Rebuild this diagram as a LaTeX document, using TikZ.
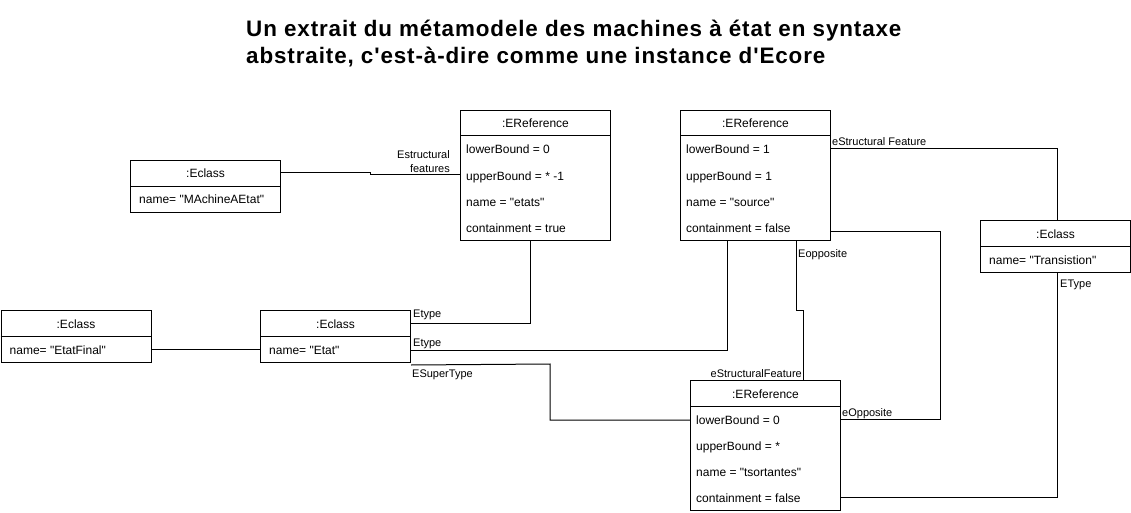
\documentclass[tikz,border=0pt]{standalone}
\usepackage{fontspec}
\setmainfont{Liberation Sans}[Ligatures=TeXOff]
\newfontfamily\titlefont[LetterSpace=4,Ligatures=TeXOff]{Liberation Sans}
\begin{document}
\begin{tikzpicture}[x=1pt,y=-1pt,
  box/.style={draw, line width=1pt, minimum width=150pt, inner sep=0pt, anchor=north west, fill=white},
  hdr/.style={anchor=base, inner sep=0pt, font=\fontsize{12pt}{14pt}\selectfont},
  attr/.style={anchor=base west, inner sep=0pt, font=\fontsize{12pt}{14pt}\selectfont},
  lbl/.style={anchor=base west, inner sep=0pt, font=\fontsize{11pt}{13pt}\selectfont},
  lblr/.style={anchor=base east, inner sep=0pt, font=\fontsize{11pt}{13pt}\selectfont},
  ttl/.style={anchor=base west, inner sep=0pt, font=\titlefont\bfseries\fontsize{22.4pt}{26pt}\selectfont},
  conn/.style={draw, line width=1pt}]
\useasboundingbox (0,0) rectangle (1131,513);

% title
\node[ttl] (title1) at (246,37) {Un extrait du métamodele des machines à état en syntaxe};
\node[ttl] (title2) at (246,64) {abstraite, c'est-à-dire comme une instance d'Ecore};

% EReference etats
\node[box, minimum height=130pt] (er1) at (460,110) {};
\draw[line width=1pt] ([yshift=-26pt]er1.north west) -- ([yshift=-26pt]er1.north east);
\node[hdr] (er1h) at ([yshift=-18pt]er1.north) {:EReference};
\node[attr] (er1a) at ([xshift=6pt,yshift=-44pt]er1.north west) {lowerBound = 0};
\node[attr] (er1b) at ([xshift=6pt,yshift=-70pt]er1.north west) {upperBound = * -1};
\node[attr] (er1c) at ([xshift=6pt,yshift=-96pt]er1.north west) {name = "etats"};
\node[attr] (er1d) at ([xshift=6pt,yshift=-122pt]er1.north west) {containment = true};

% EReference source
\node[box, minimum height=130pt] (er2) at (680,110) {};
\draw[line width=1pt] ([yshift=-26pt]er2.north west) -- ([yshift=-26pt]er2.north east);
\node[hdr] (er2h) at ([yshift=-18pt]er2.north) {:EReference};
\node[attr] (er2a) at ([xshift=6pt,yshift=-44pt]er2.north west) {lowerBound = 1};
\node[attr] (er2b) at ([xshift=6pt,yshift=-70pt]er2.north west) {upperBound = 1};
\node[attr] (er2c) at ([xshift=6pt,yshift=-96pt]er2.north west) {name = "source"};
\node[attr] (er2d) at ([xshift=6pt,yshift=-122pt]er2.north west) {containment = false};

% EReference tsortantes
\node[box, minimum height=130pt] (er3) at (690,380) {};
\draw[line width=1pt] ([yshift=-26pt]er3.north west) -- ([yshift=-26pt]er3.north east);
\node[hdr] (er3h) at ([yshift=-18pt]er3.north) {:EReference};
\node[attr] (er3a) at ([xshift=6pt,yshift=-44pt]er3.north west) {lowerBound = 0};
\node[attr] (er3b) at ([xshift=6pt,yshift=-70pt]er3.north west) {upperBound = *};
\node[attr] (er3c) at ([xshift=6pt,yshift=-96pt]er3.north west) {name = "tsortantes"};
\node[attr] (er3d) at ([xshift=6pt,yshift=-122pt]er3.north west) {containment = false};

% Eclass MAchineAEtat
\node[box, minimum height=52pt] (mae) at (130,160) {};
\draw[line width=1pt] ([yshift=-26pt]mae.north west) -- ([yshift=-26pt]mae.north east);
\node[hdr] (maeh) at ([yshift=-18pt]mae.north) {:Eclass};
\node[attr] (maea) at ([xshift=9pt,yshift=-44pt]mae.north west) {name= "MAchineAEtat"};

% Eclass Transistion
\node[box, minimum height=52pt] (tr) at (980,220) {};
\draw[line width=1pt] ([yshift=-26pt]tr.north west) -- ([yshift=-26pt]tr.north east);
\node[hdr] (trh) at ([yshift=-18pt]tr.north) {:Eclass};
\node[attr] (tra) at ([xshift=9pt,yshift=-44pt]tr.north west) {name= "Transistion"};

% Eclass EtatFinal
\node[box, minimum height=52pt] (ef) at (0.5,310) {};
\draw[line width=1pt] ([yshift=-26pt]ef.north west) -- ([yshift=-26pt]ef.north east);
\node[hdr] (efh) at ([yshift=-18pt]ef.north) {:Eclass};
\node[attr] (efa) at ([xshift=9pt,yshift=-44pt]ef.north west) {name= "EtatFinal"};

% Eclass Etat
\node[box, minimum height=52pt] (et) at (260,310) {};
\draw[line width=1pt] ([yshift=-26pt]et.north west) -- ([yshift=-26pt]et.north east);
\node[hdr] (eth) at ([yshift=-18pt]et.north) {:Eclass};
\node[attr] (eta) at ([xshift=9pt,yshift=-44pt]et.north west) {name= "Etat"};

% connectors
\path[conn] (mae.east |- 0,173) -- (370,173) -- (370,175) -- (er1.west |- 0,175);
\path[conn] (530,0 |- er1.south) -- (530,323) -- (et.east |- 0,323);
\path[conn] (727,0 |- er2.south) -- (727,350) -- (et.east |- 0,350);
\path[conn] ([yshift=-2pt]et.south east) -- (550,364) -- (550,420) -- (er3.west |- 0,420);
\path[conn] (796,0 |- er2.south) -- (796,310) -- (803,310) -- (803,0 |- er3.north);
\path[conn] (er2.east |- 0,231) -- (940,231) -- (940,419) -- (er3.east |- 0,419);
\path[conn] (er2.east |- 0,149) -- (1057,149) -- (1057,0 |- tr.north);
\path[conn] (1057,0 |- tr.south) -- (1057,497) -- (er3.east |- 0,497);
\path[conn] (ef.east |- 0,349) -- (et.west |- 0,349);

% labels
\node[lblr] (l1a) at (450,159) {Estructural};
\node[lblr] (l1b) at (450,172) {features};
\node[lbl] (l2) at (413,317) {Etype};
\node[lbl] (l3) at (413,346) {Etype};
\node[lbl] (l4) at (412,377) {ESuperType};
\node[lblr] (l5) at (802,377) {eStructuralFeature};
\node[lbl] (l6) at (798,257) {Eopposite};
\node[lbl] (l7) at (832,146) {eStructural Feature};
\node[lbl] (l8) at (842,416) {eOpposite};
\node[lbl] (l9) at (1060,287) {EType};
\end{tikzpicture}
\end{document}
